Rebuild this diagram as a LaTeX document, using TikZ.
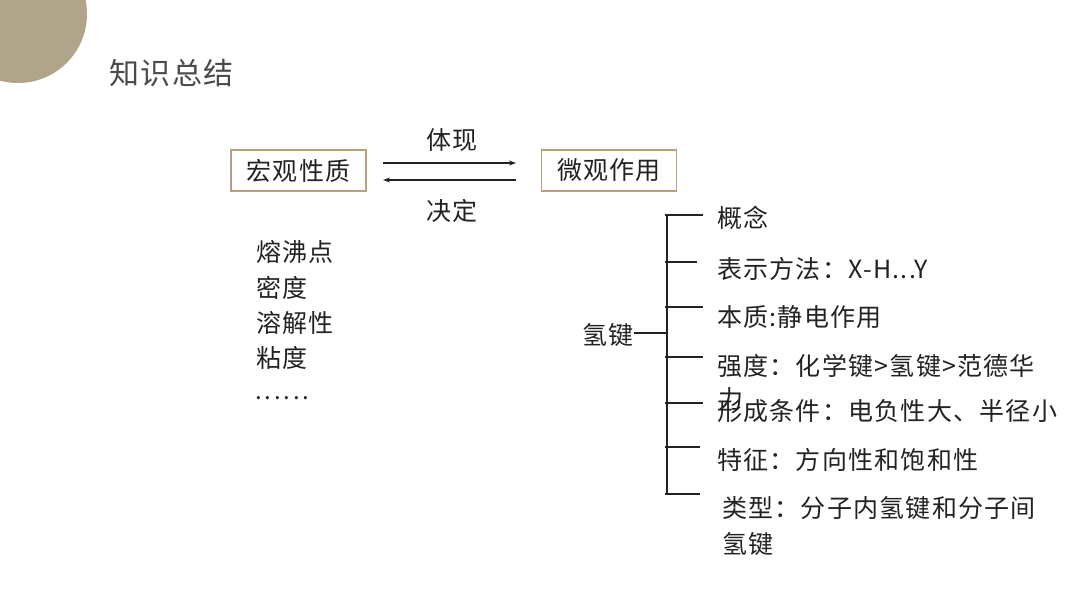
\documentclass[tikz,border=0pt]{standalone}
\usepackage{fontspec}
\setmainfont{Noto Sans CJK SC}
\usetikzlibrary{arrows.meta}
\definecolor{deco}{HTML}{B0A48B}
\definecolor{boxc}{HTML}{B4A27A}
\definecolor{ink}{HTML}{222222}
\definecolor{titlec}{HTML}{4A4A4A}
\newcommand{\mainfs}{\fontsize{25}{30}\selectfont\addfontfeature{LetterSpace=5}}
\begin{document}
\begin{tikzpicture}[x=1pt,y=-1pt,
  txt/.style={font=\mainfs, text=ink, inner sep=0pt, anchor=west},
  box/.style={draw=boxc, line width=1.5pt, font=\mainfs, text=ink,
              minimum width=135pt, minimum height=41pt, inner sep=0pt},
  ln/.style={line width=1.5pt, draw=ink},
  arr/.style={line width=1.2pt, draw=ink, -{Stealth[length=7pt,width=5pt]}}]
\useasboundingbox (0,0) rectangle (1080,607);
\fill[deco] (18,14) circle (69);
\node[anchor=west, inner sep=0pt, text=titlec, font=\fontsize{30}{36}\selectfont\addfontfeature{LetterSpace=5}] (title) at (109,73) {知识总结};
% boxes and arrows
\node[box] (macro) at (298.5,170.5) {宏观性质};
\node[box] (micro) at (609,170.5) {微观作用};
\coordinate (a1s) at (383,163); \coordinate (a1e) at (516,163);
\coordinate (a2s) at (516,180); \coordinate (a2e) at (383,180);
\draw[arr] (a1s) -- (a1e);
\draw[arr] (a2s) -- (a2e);
\node[txt, anchor=center] (tixian) at (452,140) {体现};
\node[txt, anchor=center] (jueding) at (452,211) {决定};
% left list
\node[txt] (p1) at (256,252) {熔沸点};
\node[txt] (p2) at (256,288) {密度};
\node[txt] (p3) at (256,323) {溶解性};
\node[txt] (p4) at (256,358) {粘度};
\node[txt, font=\fontsize{24}{29}\selectfont\addfontfeature{LetterSpace=12}] (p5) at (255,398) {......};
% tree
\node[txt] (hb) at (582,335) {氢键};
\coordinate (top) at (667,215);
\coordinate (bot) at (667,494);
\coordinate (mid) at (667,333);
\draw[ln] (top) -- (bot);
\draw[ln] (hb.east |- mid) -- (mid);
\foreach \y/\e in {215/703, 262/697, 307/703, 357/703, 403/703, 447/700, 494/700}{
  \draw[ln] (665,\y) -- (\e,\y);
}
\node[txt] (i1) at (717,218) {概念};
\node[txt] (i2) at (717,269) {表示方法：X-H...Y};
\node[txt] (i3) at (717,317) {本质:静电作用};
\node[txt] (i4) at (717,366) {强度：化学键>氢键>范德华};
\node[txt] (i4b) at (718,399) {力};
\node[txt] (i5) at (717,411) {形成条件：电负性大、半径小};
\node[txt] (i6) at (717,460) {特征：方向性和饱和性};
\node[txt] (i7) at (722,508) {类型：分子内氢键和分子间};
\node[txt] (i7b) at (722,544) {氢键};
\end{tikzpicture}
\end{document}
